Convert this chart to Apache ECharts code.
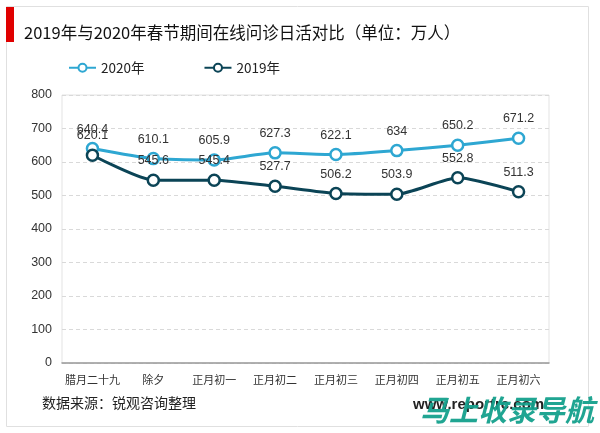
<!DOCTYPE html>
<html><head><meta charset="utf-8">
<script src="https://cdn.jsdelivr.net/npm/echarts@6/dist/echarts.min.js"></script>
<style>html,body{margin:0;padding:0;background:#fff}#c{width:600px;height:433px}</style>
</head><body><div id="c"></div>
<script>
const categories = ['腊月二十九','除夕','正月初一','正月初二','正月初三','正月初四','正月初五','正月初六'];
const values2020 = [640.4, 610.1, 605.9, 627.3, 622.1, 634, 650.2, 671.2];
const values2019 = [620.1, 545.6, 545.4, 527.7, 506.2, 503.9, 552.8, 511.3];
const seriesNames = ['2020年','2019年'];
const titleText = '2019年与2020年春节期间在线问诊日活对比（单位：万人）';
const sourceText = '数据来源：锐观咨询整理';
const siteText = 'www.reportrc.com';
const watermarkText = '马上收录导航';

const font = '"Microsoft YaHei","Noto Sans CJK SC",Arial,sans-serif';
const numFont = 'Arial, "Liberation Sans", sans-serif';
const chart = echarts.init(document.getElementById('c'));
const lbl = {show:true, position:'top', distance:6, color:'#333', fontSize:12.5, fontFamily:numFont};
chart.setOption({
  animation:false,
  title:{text:titleText, left:19, top:19, textStyle:{fontSize:16.5, fontWeight:'normal', color:'#111', fontFamily:font}},
  legend:{data:seriesNames, left:63, top:56, itemWidth:27, itemHeight:10, itemGap:59,
    textStyle:{fontSize:13.5, color:'#222', fontFamily:font}},
  grid:{left:62, right:51, top:95, bottom:70, show:true, borderColor:'#e3e3e3', borderWidth:1},
  xAxis:{type:'category', data:categories, boundaryGap:true,
    axisLine:{lineStyle:{color:'#9a9a9a', width:1.5}}, axisTick:{show:false},
    axisLabel:{color:'#333', fontSize:11, margin:11, interval:0, fontFamily:font}},
  yAxis:{type:'value', min:0, max:800, interval:100,
    axisLine:{show:false}, axisTick:{show:false},
    axisLabel:{color:'#333', fontSize:12.5, margin:10, fontFamily:numFont},
    splitLine:{lineStyle:{color:'#d9d9d9', type:[4,3]}}},
  series:[
    {name:seriesNames[0], type:'line', data:values2020, smooth:0.2, symbol:'circle', symbolSize:11,
      lineStyle:{color:'#2ea7d2', width:3}, itemStyle:{color:'#fff', borderColor:'#2ea7d2', borderWidth:2.5},
      label:lbl, z:2},
    {name:seriesNames[1], type:'line', data:values2019, smooth:0.2, symbol:'circle', symbolSize:11,
      lineStyle:{color:'#0b4456', width:3}, itemStyle:{color:'#fff', borderColor:'#0b4456', borderWidth:2.5},
      label:lbl, z:3}
  ],
  graphic:[
    {type:'rect', shape:{x:6.5, y:6.5, width:582, height:420}, style:{fill:'none', stroke:'#e0e0e0', lineWidth:1}, z:-10},
    {type:'rect', shape:{x:6, y:7, width:8, height:35}, style:{fill:'#e00000'}},
    {type:'text', left:42, top:396, style:{text:sourceText, fontSize:14, fill:'#222', fontFamily:font}},
    {type:'text', left:413, top:397, style:{text:siteText, fontSize:15, fontWeight:'bold', fill:'#222', fontFamily:numFont}},
    {type:'text', left:420, top:395, style:{text:watermarkText, fontSize:29, fontWeight:'bold', fontStyle:'italic', fill:'rgba(20,160,140,0.95)', fontFamily:font}}
  ]
});
</script></body></html>
